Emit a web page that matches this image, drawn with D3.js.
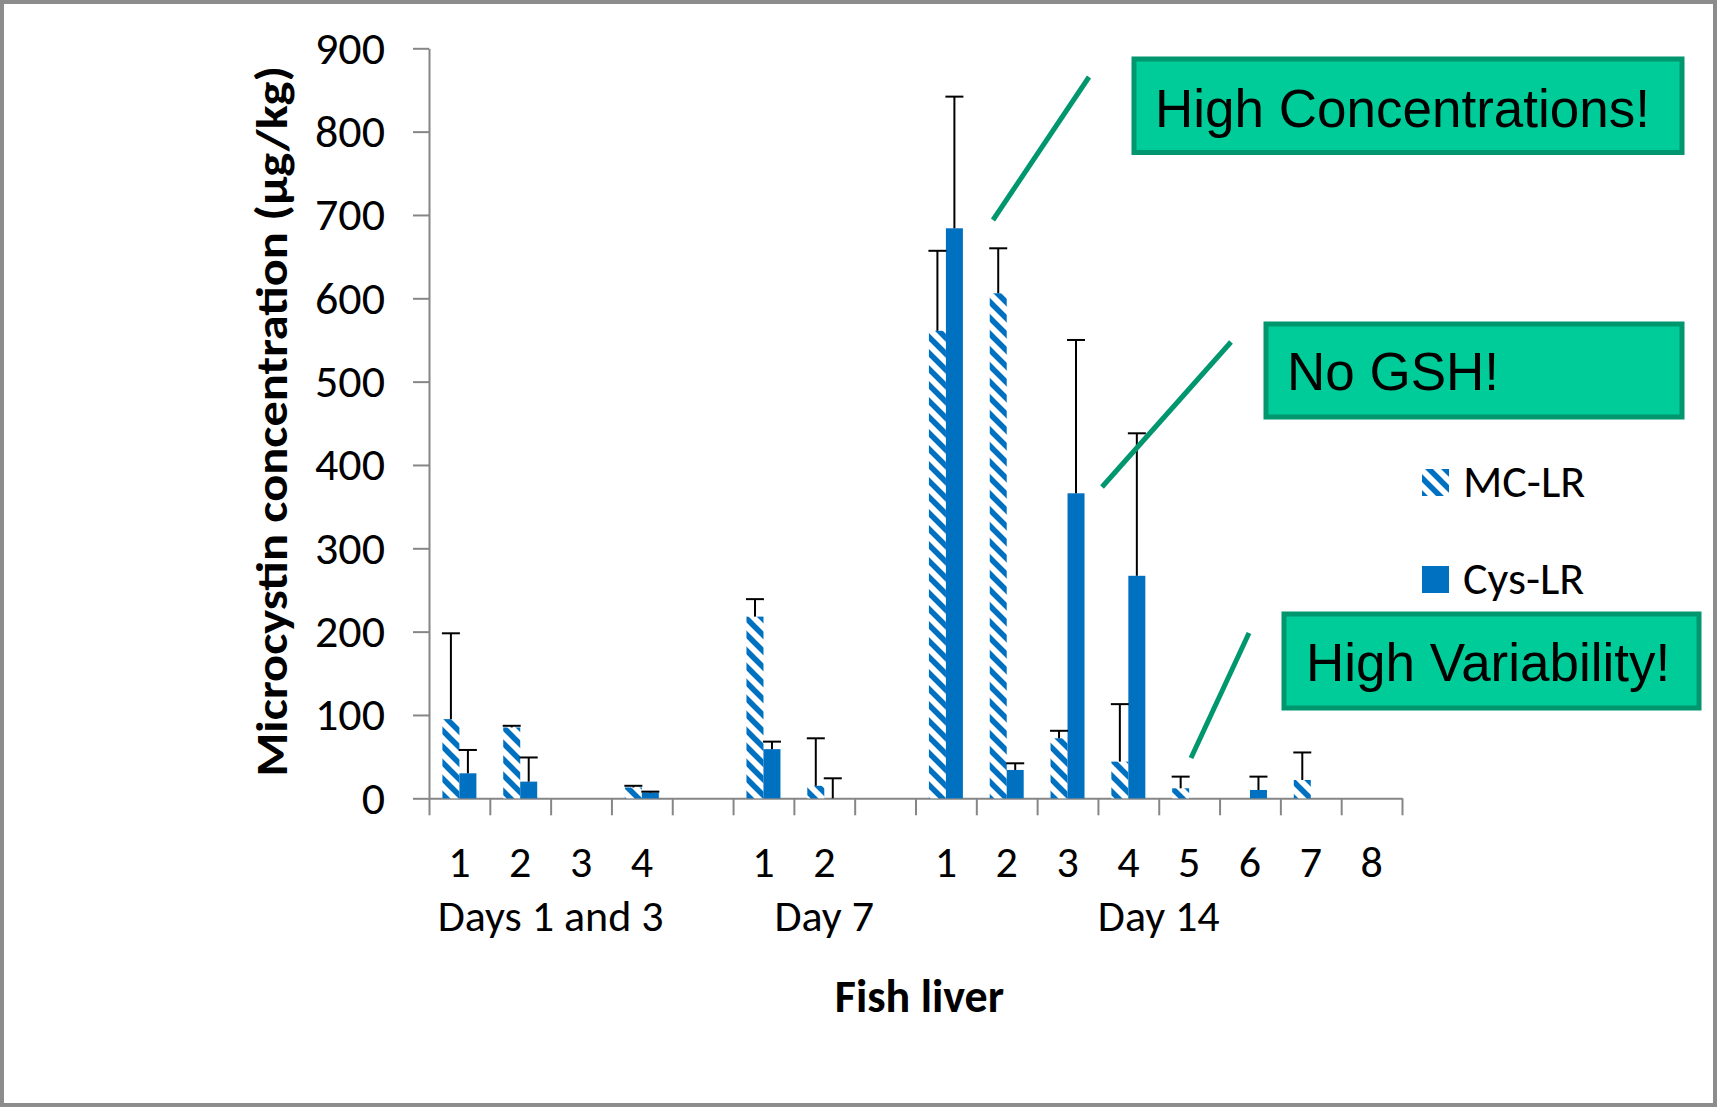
<!DOCTYPE html>
<html>
<head>
<meta charset="utf-8">
<script src="https://cdn.jsdelivr.net/npm/d3@7"></script>
<style>
  html, body { margin: 0; padding: 0; background: #fff; }
  svg { display: block; }
  .cal { font-family: Calibri, Carlito, Lato, sans-serif; }
  .ari { font-family: Arial, "Liberation Sans", sans-serif; }
</style>
</head>
<body>
<svg id="chart" width="1717" height="1107"></svg>
<script>
// ---------------- data ----------------
const categories = ["1","2","3","4","", "1","2","", "1","2","3","4","5","6","7","8"];
const groupLabels = ["Days 1 and 3", "Day 7", "Day 14"];
const groupStart  = [0, 5, 8];
const groupEnd    = [3, 7, 15];
const seriesNames = ["MC-LR", "Cys-LR"];
const mcLR      = [95, 85, 0, 13, 0, 218, 15, 0, 561, 606, 72, 44, 12, 0, 22, 0];
const mcLRErr   = [103, 2, 0, 2, 0, 21, 57, 0, 96, 54, 9, 69, 14, 0, 33, 0];
const cysLR     = [30, 20, 0, 7, 0, 59, 0, 0, 684, 34, 366, 267, 0, 10, 0, 0];
const cysLRErr  = [28, 29, 0, 1, 0, 9, 24, 0, 158, 8, 184, 171, 0, 16, 0, 0];
const yTicks    = [0, 100, 200, 300, 400, 500, 600, 700, 800, 900];
const yTitle = "Microcystin concentration (µg/kg)";
const xTitle = "Fish liver";
const notes = [
  {text: "High Concentrations!", box: [1134, 59, 548, 93.5], tx: 1155, ty: 127, line: [993, 220, 1089, 77]},
  {text: "No GSH!", box: [1266, 324, 416, 93], tx: 1287, ty: 390, line: [1102, 487, 1231, 342]},
  {text: "High Variability!", box: [1284, 614, 415, 94], tx: 1306, ty: 681, line: [1191, 758, 1249, 633]}
];

// ---------------- setup ----------------
const W = 1717, H = 1107;
const svg = d3.select("#chart");
const blue = "#0070C0", axisCol = "#868686";

svg.append("rect").attr("x", 0).attr("y", 0).attr("width", W).attr("height", H).attr("fill", "#fff");

const defs = svg.append("defs");
const pat = defs.append("pattern").attr("id", "hatch").attr("patternUnits", "userSpaceOnUse")
  .attr("width", 16).attr("height", 16);
pat.append("rect").attr("width", 16).attr("height", 16).attr("fill", "#fff");
pat.append("path").attr("d", "M-4,-4 L20,20 M-4,12 L4,20 M12,-4 L20,4")
  .attr("stroke", blue).attr("stroke-width", 5.5).attr("fill", "none");

const plotL = 429, plotR = 1402, plotT = 48.3, plotB = 798.3;
const y = d3.scaleLinear().domain([0, 900]).range([plotB, plotT]);
const x = d3.scaleBand().domain(d3.range(categories.length)).range([plotL, plotR]);
const xs = d3.scaleBand().domain(seriesNames).range([0, x.bandwidth()]).paddingInner(0).paddingOuter(0.79);
const xEdge = d3.scaleLinear().domain([0, categories.length]).range([plotL, plotR]);

// ---------------- axes ----------------
const yAxis = svg.append("g").attr("transform", `translate(${plotL},0)`)
  .call(d3.axisLeft(y).tickValues(yTicks).tickSize(16).tickSizeOuter(0).tickPadding(28));
yAxis.selectAll("path,line").attr("stroke", axisCol).attr("stroke-width", 2);
yAxis.selectAll("text").attr("class", "cal").attr("font-size", 46).attr("fill", "#000")
  .attr("font-family", null);

const xAxis = svg.append("g").attr("transform", `translate(0,${plotB})`)
  .call(d3.axisBottom(xEdge).tickValues(d3.range(categories.length + 1)).tickSize(17).tickSizeOuter(0).tickFormat(""));
xAxis.selectAll("path,line").attr("stroke", axisCol).attr("stroke-width", 2);

svg.append("g").selectAll("text").data(categories).join("text")
  .attr("class", "cal").attr("font-size", 44).attr("text-anchor", "middle")
  .attr("x", (d, i) => x(i) + x.bandwidth() / 2).attr("y", 877).text(d => d);

svg.append("g").selectAll("text").data(groupLabels).join("text")
  .attr("class", "cal").attr("font-size", 44).attr("text-anchor", "middle")
  .attr("x", (d, i) => (xEdge(groupStart[i]) + xEdge(groupEnd[i] + 1)) / 2)
  .attr("y", 931).text(d => d);

svg.append("text").attr("class", "cal").attr("font-size", 46).attr("font-weight", "bold")
  .attr("text-anchor", "middle").attr("x", (plotL + plotR) / 2 + 4).attr("y", 1012).text(xTitle);

svg.append("text").attr("class", "cal").attr("font-size", 44).attr("font-weight", "bold")
  .attr("text-anchor", "middle")
  .attr("transform", `translate(287,${(plotT + plotB) / 2 - 2}) rotate(-90)`)
  .attr("textLength", 711).attr("lengthAdjust", "spacingAndGlyphs")
  .text(yTitle);

// ---------------- bars ----------------
const series = [
  {name: "MC-LR", vals: mcLR, errs: mcLRErr, fill: "url(#hatch)"},
  {name: "Cys-LR", vals: cysLR, errs: cysLRErr, fill: blue}
];
const barsG = svg.append("g");
series.forEach(s => {
  barsG.append("g").selectAll("rect").data(s.vals.map((v, i) => ({v, i}))).join("rect")
    .filter(d => d.v > 0)
    .attr("x", d => x(d.i) + xs(s.name)).attr("width", xs.bandwidth())
    .attr("y", d => y(d.v)).attr("height", d => y(0) - y(d.v))
    .attr("fill", s.fill);
});
const errG = svg.append("g").attr("stroke", "#000").attr("stroke-width", 2);
series.forEach(s => {
  s.vals.forEach((v, i) => {
    const e = s.errs[i];
    if (!(e > 0)) return;
    const cx = x(i) + xs(s.name) + xs.bandwidth() / 2;
    errG.append("line").attr("x1", cx).attr("x2", cx).attr("y1", y(v)).attr("y2", y(v + e));
    errG.append("line").attr("x1", cx - 9).attr("x2", cx + 9).attr("y1", y(v + e)).attr("y2", y(v + e));
  });
});

// ---------------- legend ----------------
const legendY = [469, 566];
const legendFill = ["url(#hatch)", blue];
seriesNames.forEach((n, i) => {
  svg.append("rect").attr("x", 1422).attr("y", legendY[i]).attr("width", 27).attr("height", 27)
    .attr("fill", legendFill[i]);
  svg.append("text").attr("class", "cal").attr("font-size", 46).attr("x", 1463)
    .attr("y", legendY[i] + 28).text(n);
});

// ---------------- annotations ----------------
notes.forEach(n => {
  svg.append("line").attr("x1", n.line[0]).attr("y1", n.line[1]).attr("x2", n.line[2]).attr("y2", n.line[3])
    .attr("stroke", "#00966E").attr("stroke-width", 5);
  svg.append("rect").attr("x", n.box[0]).attr("y", n.box[1]).attr("width", n.box[2]).attr("height", n.box[3])
    .attr("fill", "#00CC99").attr("stroke", "#00966E").attr("stroke-width", 5);
  svg.append("text").attr("class", "ari").attr("font-size", 53).attr("x", n.tx).attr("y", n.ty)
    .attr("fill", "#000").text(n.text);
});

// ---------------- frame ----------------
svg.append("rect").attr("x", 2).attr("y", 2).attr("width", W - 4).attr("height", H - 4)
  .attr("fill", "none").attr("stroke", "#8c8c8c").attr("stroke-width", 4);
</script>
</body>
</html>
